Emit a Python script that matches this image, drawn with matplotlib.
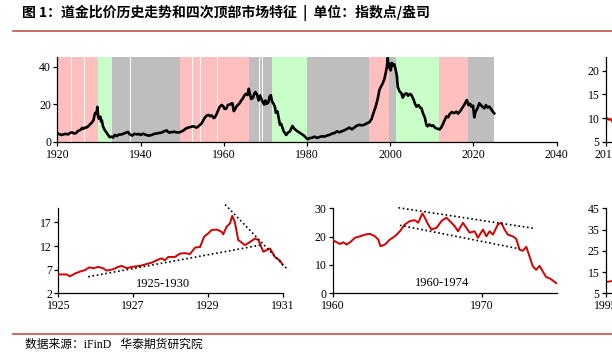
import matplotlib
matplotlib.use("Agg")
import matplotlib.pyplot as plt
from matplotlib.lines import Line2D

# ---------------- data ----------------
main_years = [1920.0, 1920.5, 1921.0, 1921.5, 1922.0, 1922.6, 1923.0, 1923.5, 1924.0, 1924.5,
              1925.0, 1925.5, 1926.0, 1926.3, 1926.7, 1927.0, 1927.5, 1927.9, 1928.3, 1928.7,
              1928.9, 1929.1, 1929.4, 1929.65, 1929.8, 1930.0, 1930.35, 1930.5, 1930.7, 1931.0,
              1931.4, 1931.8, 1932.2, 1932.6, 1933.0, 1933.4, 1933.8, 1934.3, 1934.8, 1935.5,
              1936.0, 1936.7, 1937.0, 1937.4, 1938.0, 1938.5, 1939.1, 1939.6, 1940.1, 1940.6,
              1941.2, 1942.0, 1942.7, 1943.3, 1944.2, 1945.0, 1945.8, 1946.3, 1946.8, 1947.5,
              1948.2, 1948.8, 1949.4, 1950.0, 1950.5, 1951.0, 1951.6, 1952.1, 1952.6, 1953.0,
              1953.4, 1953.8, 1954.3, 1954.7, 1955.1, 1955.5, 1955.9, 1956.3, 1956.7, 1957.1,
              1957.6, 1957.9, 1958.3, 1958.6, 1959.0, 1959.5, 1959.9, 1960.2, 1960.6, 1961.0,
              1961.5, 1961.9, 1962.1, 1962.4, 1962.8, 1963.1, 1963.4, 1963.8, 1964.2, 1964.6,
              1965.0, 1965.3, 1965.7, 1966.0, 1966.3, 1966.6, 1967.0, 1967.3, 1967.6, 1968.0,
              1968.4, 1968.7, 1969.0, 1969.3, 1969.7, 1970.0, 1970.3, 1970.7, 1971.0, 1971.3,
              1971.6, 1972.0, 1972.3, 1972.5, 1972.9, 1973.2, 1973.5, 1973.8, 1974.1, 1974.4,
              1974.7, 1975.0, 1975.4, 1975.9, 1976.5, 1976.9, 1977.5, 1978.1, 1978.7, 1979.3,
              1979.9, 1980.1, 1980.6, 1981.2, 1981.8, 1982.4, 1983.0, 1983.6, 1984.2, 1984.8,
              1985.4, 1986.0, 1986.6, 1987.2, 1987.8, 1988.4, 1989.0, 1989.6, 1990.2, 1990.8,
              1991.4, 1992.0, 1992.6, 1993.2, 1993.8, 1994.4, 1995.0, 1995.5, 1996.0, 1996.5,
              1997.0, 1997.4, 1997.8, 1998.2, 1998.6, 1998.9, 1999.2, 1999.4, 1999.6, 1999.8,
              2000.1, 2000.4, 2000.7, 2001.0, 2001.3, 2001.6, 2001.8, 2002.2, 2002.7, 2003.0,
              2003.5, 2003.9, 2004.3, 2004.7, 2005.1, 2005.6, 2006.0, 2006.3, 2006.8, 2007.2,
              2007.5, 2007.9, 2008.3, 2008.7, 2009.0, 2009.4, 2009.9, 2010.3, 2010.7, 2011.1,
              2011.5, 2011.9, 2012.3, 2012.7, 2013.1, 2013.5, 2013.9, 2014.3, 2014.8, 2015.3,
              2015.9, 2016.3, 2016.9, 2017.5, 2018.0, 2018.4, 2018.8, 2019.2, 2019.5, 2019.9,
              2020.2, 2020.5, 2020.9, 2021.4, 2021.8, 2022.2, 2022.6, 2023.0, 2023.4, 2023.8,
              2024.2, 2024.6, 2025.0]
main_vals = [4.6, 4.0, 3.6, 3.9, 4.2, 3.9, 4.6, 5.0, 4.4, 4.6,
             5.8, 6.2, 7.4, 6.9, 7.6, 7.5, 8.4, 9.3, 10.2, 11.5,
             13.8, 15.3, 15.0, 18.6, 13.5, 12.2, 13.4, 10.8, 11.4, 8.0,
             6.2, 5.0, 3.6, 2.4, 2.7, 2.2, 3.6, 3.0, 3.8, 3.9,
             4.4, 5.0, 5.2, 3.9, 3.3, 4.2, 3.9, 4.1, 3.6, 4.3,
             3.7, 3.2, 3.6, 4.2, 4.5, 4.8, 5.7, 6.0, 4.9, 5.1,
             5.3, 4.9, 5.0, 5.6, 6.3, 7.2, 7.6, 7.9, 8.2, 8.0,
             7.5, 8.0, 9.0, 9.8, 11.5, 13.0, 13.9, 14.3, 13.6, 14.0,
             12.6, 13.0, 14.8, 16.5, 18.5, 19.6, 18.8, 17.5, 17.6, 19.6,
             19.8, 20.5, 20.4, 16.3, 17.5, 19.0, 19.6, 20.5, 22.0, 23.1,
             24.8, 25.5, 24.9, 28.2, 25.0, 22.8, 23.4, 25.5, 26.5, 25.0,
             22.0, 24.6, 23.0, 21.5, 19.8, 22.0, 20.2, 20.8, 24.0, 24.8,
             21.5, 20.0, 18.5, 15.4, 16.2, 12.5, 9.0, 9.5, 7.5, 5.5,
             4.6, 3.6, 4.8, 5.5, 8.4, 7.0, 5.9, 5.0, 4.1, 3.2,
             1.8, 1.3, 1.9, 2.1, 2.7, 2.0, 2.5, 2.9, 2.7, 3.3,
             3.6, 4.3, 4.6, 5.5, 5.0, 5.6, 6.1, 6.8, 7.5, 6.6,
             7.6, 8.6, 9.0, 8.7, 9.1, 9.8, 10.4, 12.0, 15.5, 18.7,
             23.0, 27.6, 29.5, 31.1, 33.5, 36.5, 40.0, 44.8, 39.5, 41.5,
             38.0, 42.0, 40.5, 41.2, 38.5, 35.0, 29.3, 27.0, 25.8, 23.5,
             25.5, 25.8, 24.5, 25.5, 24.9, 22.5, 20.0, 18.7, 19.5, 18.2,
             17.8, 15.0, 13.0, 8.9, 8.2, 9.2, 8.4, 8.7, 7.6, 7.1,
             6.8, 6.6, 7.8, 9.5, 11.6, 13.5, 13.0, 14.8, 15.8, 15.2,
             16.0, 15.0, 16.5, 18.7, 20.5, 22.2, 19.5, 20.2, 18.7, 19.2,
             13.0, 16.0, 17.5, 20.5, 19.5, 18.5, 17.8, 19.5, 18.2, 18.7,
             17.5, 16.2, 15.1]

# market regime bands (start, end, kind)
band_starts = [1920.0, 1929.7, 1933.2, 1949.5, 1966.1, 1971.7, 1980.0, 1995.0, 1999.6, 2001.5, 2011.6, 2018.6]
band_ends   = [1929.7, 1933.2, 1949.5, 1966.1, 1971.7, 1980.0, 1995.0, 1999.6, 2001.5, 2011.6, 2018.6, 2025.0]
band_kinds  = ['up', 'down', 'flat', 'up', 'flat', 'down', 'flat', 'up', 'flat', 'down', 'up', 'flat']
band_gaps = [1923.3, 1926.5, 1937.4, 1952.4, 1954.3, 1958.4, 1968.5, 1969.3]

p1_years = [1925.0, 1925.22, 1925.31, 1925.45, 1925.58, 1925.71, 1925.83, 1925.94, 1926.07, 1926.2,
            1926.29, 1926.47, 1926.6, 1926.7, 1926.83, 1926.96, 1927.18, 1927.36, 1927.5, 1927.63,
            1927.76, 1927.85, 1927.94, 1928.12, 1928.25, 1928.39, 1928.52, 1928.66, 1928.79, 1928.9,
            1929.01, 1929.1, 1929.24, 1929.37, 1929.41, 1929.5, 1929.59, 1929.65, 1929.72, 1929.81,
            1929.99, 1930.13, 1930.26, 1930.35, 1930.48, 1930.61, 1930.66, 1930.79, 1930.93, 1931.0]
p1_vals = [6.0, 6.0, 5.6, 6.2, 6.6, 6.9, 7.5, 7.3, 7.6, 7.3,
           6.8, 7.1, 7.6, 7.8, 7.3, 7.6, 7.8, 8.2, 8.5, 9.0,
           9.4, 9.0, 9.7, 9.7, 10.4, 10.5, 10.3, 11.7, 11.8, 14.0,
           14.7, 15.4, 15.5, 15.0, 14.5, 16.1, 16.8, 18.4, 17.1, 13.3,
           12.2, 12.9, 13.6, 13.3, 10.8, 11.3, 11.5, 9.7, 8.9, 8.0]
p1_trend_x = [1925.8, 1930.4]
p1_trend_y = [5.5, 12.2]
p1_fall_x = [1929.46, 1931.15]
p1_fall_y = [20.8, 6.9]

p2_years = [1960.0, 1960.27, 1960.49, 1960.71, 1960.93, 1961.16, 1961.49, 1961.82, 1962.16, 1962.49,
            1962.83, 1963.05, 1963.2, 1963.5, 1963.83, 1964.16, 1964.5, 1964.83, 1965.16, 1965.5,
            1965.72, 1966.01, 1966.17, 1966.39, 1966.61, 1966.95, 1967.28, 1967.61, 1967.84, 1968.17,
            1968.39, 1968.72, 1968.95, 1969.17, 1969.5, 1969.72, 1970.06, 1970.29, 1970.51, 1970.73,
            1971.06, 1971.29, 1971.51, 1971.73, 1972.06, 1972.29, 1972.51, 1972.73, 1972.96, 1973.18,
            1973.4, 1973.63, 1973.85, 1974.07, 1974.3, 1974.52, 1974.74, 1974.96]
p2_vals = [18.8, 18.0, 17.4, 18.0, 17.2, 18.0, 19.6, 20.1, 20.7, 21.0,
           20.1, 19.0, 16.6, 17.2, 19.0, 20.1, 21.9, 24.3, 25.5, 25.8,
           24.9, 28.2, 26.7, 24.3, 22.5, 23.1, 25.5, 26.7, 25.5, 23.7,
           21.9, 24.9, 23.1, 21.4, 21.9, 19.6, 22.5, 20.1, 21.9, 20.7,
           24.3, 24.9, 22.5, 20.7, 20.1, 19.2, 15.4, 15.0, 16.4, 13.0,
           9.5, 8.3, 9.7, 7.7, 5.7, 5.3, 4.5, 3.6]
p2_upper_x = [1964.4, 1973.5]
p2_upper_y = [30.2, 22.9]
p2_lower_x = [1964.5, 1972.5]
p2_lower_y = [24.0, 15.7]

p3_years = [2011.0, 2011.1, 2011.2, 2011.3, 2011.4]
p3_vals = [9.4, 10.0, 9.6, 9.9, 9.3]
p4_years = [1995.0, 1995.1, 1995.2, 1995.3]
p4_vals = [10.4, 10.5, 10.7, 10.8]

# ---------------- styles ----------------
W, H = 612, 355
SERIF = 'Liberation Serif'
band_colors = {'up': '#FFBFBF', 'down': '#C8FFC8', 'flat': '#BEBEBE'}
RED = '#D40000'

plt.rcParams['font.family'] = [SERIF, 'Noto Sans CJK SC']
plt.rcParams['font.size'] = 8.5
plt.rcParams['axes.linewidth'] = 0.9
plt.rcParams['xtick.major.size'] = 3
plt.rcParams['ytick.major.size'] = 3
plt.rcParams['xtick.major.width'] = 0.9
plt.rcParams['ytick.major.width'] = 0.9
plt.rcParams['xtick.major.pad'] = 2
plt.rcParams['ytick.major.pad'] = 1.5

fig = plt.figure(figsize=(W / 100, H / 100), dpi=100)


def px_axes(left, top, right, bottom):
    return fig.add_axes([left / W, 1 - bottom / H, (right - left) / W, (bottom - top) / H])


def style(ax):
    for s in ('top', 'right'):
        ax.spines[s].set_visible(False)
    ax.tick_params(direction='out', labelsize=8.5)
    ax.set_facecolor('none')


# main chart
ax = px_axes(57.3, 57.3, 556.7, 141.7)
style(ax)
for s, e, k in zip(band_starts, band_ends, band_kinds):
    ax.axvspan(s, e, color=band_colors[k], lw=0, zorder=0)
for g in band_gaps:
    ax.axvline(g, color='white', lw=0.8, alpha=0.85, zorder=1)
ax.plot(main_years, main_vals, color='black', lw=1.9, zorder=3)
ax.set_xlim(1920, 2040)
ax.set_ylim(0, 45)
ax.set_xticks([1920, 1940, 1960, 1980, 2000, 2020, 2040])
ax.set_yticks([0, 20, 40])

# top-right partial panel
ax3 = px_axes(606, 56.7, 830, 141.7)
style(ax3)
ax3.plot(p3_years, p3_vals, color=RED, lw=1.3)
ax3.set_xlim(2011, 2026)
ax3.set_ylim(5, 23)
ax3.set_xticks([2011])
ax3.set_yticks([5, 10, 15, 20])

# bottom-left panel 1925-1930
ax1 = px_axes(58.3, 208.3, 282.7, 293.3)
style(ax1)
ax1.plot(p1_years, p1_vals, color=RED, lw=1.4, zorder=3)
ax1.plot(p1_trend_x, p1_trend_y, color='black', lw=1.2, ls=(0, (1, 1.6)), zorder=4)
ax1.plot(p1_fall_x, p1_fall_y, color='black', lw=1.2, ls=(0, (1, 1.6)), zorder=4, clip_on=False)
ax1.set_xlim(1925, 1931)
ax1.set_ylim(2, 20)
ax1.set_xticks([1925, 1927, 1929, 1931])
ax1.set_yticks([2, 7, 12, 17])
ax1.text(1927.8, 3.9, '1925-1930', ha='center', va='center', fontsize=9, family=SERIF)

# bottom-middle panel 1960-1974
ax2 = px_axes(332.7, 208.3, 556.7, 293.3)
style(ax2)
ax2.plot(p2_years, p2_vals, color=RED, lw=1.4, zorder=3)
ax2.plot(p2_upper_x, p2_upper_y, color='black', lw=1.2, ls=(0, (1, 1.6)), zorder=4, clip_on=False)
ax2.plot(p2_lower_x, p2_lower_y, color='black', lw=1.2, ls=(0, (1, 1.6)), zorder=4)
ax2.set_xlim(1960, 1975)
ax2.set_ylim(0, 30)
ax2.set_xticks([1960, 1970])
ax2.set_yticks([0, 10, 20, 30])
ax2.text(1967.3, 3.8, '1960-1974', ha='center', va='center', fontsize=9, family=SERIF)

# bottom-right partial panel
ax4 = px_axes(605.7, 208.3, 830, 293.3)
style(ax4)
ax4.plot(p4_years, p4_vals, color=RED, lw=1.3)
ax4.set_xlim(1995, 2003)
ax4.set_ylim(5, 45)
ax4.set_xticks([1995])
ax4.set_yticks([5, 15, 25, 35, 45])

# title, rules, footer
fig.text(22 / W, 1 - 13 / H, '图 1：道金比价历史走势和四次顶部市场特征  |  单位：指数点/盎司',
         ha='left', va='center', fontsize=10, fontweight='bold',
         family=['Noto Sans CJK SC', 'DejaVu Sans'])
fig.add_artist(Line2D([13 / W, 1], [1 - 31 / H, 1 - 31 / H], color='#C0504D', lw=1.2,
                      transform=fig.transFigure))
fig.add_artist(Line2D([13 / W, 1], [1 - 333.5 / H, 1 - 333.5 / H], color='#C0504D', lw=1.2,
                      transform=fig.transFigure))
fig.text(25 / W, 1 - 344.5 / H, '数据来源：iFinD   华泰期货研究院', ha='left', va='center',
         fontsize=8.5, family=[SERIF, 'Noto Sans CJK SC'])

fig.savefig('out.png', dpi=100)
